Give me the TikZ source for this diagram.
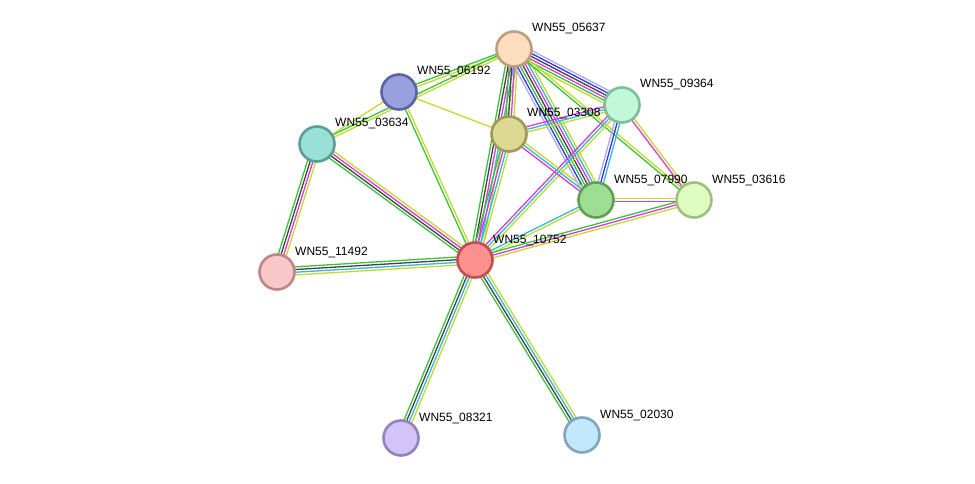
\documentclass[tikz,border=0pt]{standalone}
\usepackage{fontspec}
\setmainfont{Liberation Sans}
\usetikzlibrary{calc,backgrounds}
\definecolor{eG}{HTML}{3CC23C}
\definecolor{eY}{HTML}{C4D92E}
\definecolor{eK}{HTML}{444444}
\definecolor{eM}{HTML}{D63CD6}
\definecolor{eC}{HTML}{35B8DE}
\definecolor{eB}{HTML}{3333F0}
\definecolor{eL}{HTML}{AAAAF8}
\newcommand\stredge[4]{%
  \foreach \c [count=\i] in {#4}{%
    \pgfmathsetmacro\off{(\i-(#3+1)/2)*2.7}%
    \draw[color=\c, line width=1.3pt] ($(#1)!\off pt!90:(#2)$) -- ($(#2)!\off pt!-90:(#1)$);
  }}
\tikzset{
  pnode/.style={circle, minimum size=35pt, inner sep=0pt, line width=2.6pt},
  lab/.style={anchor=base west, inner sep=0pt, font=\fontsize{12}{14}\selectfont, text=black}
}
\begin{document}
\begin{tikzpicture}[x=1pt,y=-1pt]
\useasboundingbox (0,0) rectangle (975,484);
\node[pnode, fill={rgb,255:red,253;green,221;blue,192}, draw={rgb,255:red,191;green,158;blue,125}] (n05637) at (514,49) {};
\node[pnode, fill={rgb,255:red,152;green,160;blue,222}, draw={rgb,255:red,90;green,100;blue,165}] (n06192) at (399,92) {};
\node[pnode, fill={rgb,255:red,193;green,249;blue,216}, draw={rgb,255:red,127;green,191;blue,151}] (n09364) at (622,105) {};
\node[pnode, fill={rgb,255:red,153;green,224;blue,214}, draw={rgb,255:red,90;green,158;blue,152}] (n03634) at (317,144) {};
\node[pnode, fill={rgb,255:red,220;green,218;blue,146}, draw={rgb,255:red,156;green,154;blue,88}] (n03308) at (509,134) {};
\node[pnode, fill={rgb,255:red,157;green,222;blue,146}, draw={rgb,255:red,95;green,159;blue,86}] (n07990) at (596,200) {};
\node[pnode, fill={rgb,255:red,222;green,253;blue,192}, draw={rgb,255:red,162;green,190;blue,130}] (n03616) at (694,200) {};
\node[pnode, fill={rgb,255:red,254;green,144;blue,144}, draw={rgb,255:red,192;green,80;blue,80}] (n10752) at (475,260) {};
\node[pnode, fill={rgb,255:red,248;green,199;blue,199}, draw={rgb,255:red,190;green,135;blue,135}] (n11492) at (277,272) {};
\node[pnode, fill={rgb,255:red,210;green,195;blue,250}, draw={rgb,255:red,147;green,130;blue,187}] (n08321) at (401,438) {};
\node[pnode, fill={rgb,255:red,193;green,232;blue,252}, draw={rgb,255:red,130;green,165;blue,191}] (n02030) at (582,435) {};
\begin{pgfonlayer}{background}
\fill[white] (0,0) rectangle (975,484);
\stredge{n05637}{n06192}{2}{eG,eY}
\stredge{n05637}{n03634}{2}{eG,eY}
\stredge{n06192}{n03634}{1}{eY}
\stredge{n06192}{n03308}{1}{eY}
\stredge{n06192}{n10752}{2}{eG,eY}
\stredge{n03634}{n10752}{4}{eG,eK,eM,eY}
\stredge{n03634}{n11492}{4}{eG,eK,eM,eY}
\stredge{n11492}{n10752}{4}{eY,eC,eK,eG}
\stredge{n10752}{n08321}{4}{eG,eK,eC,eY}
\stredge{n10752}{n02030}{4}{eG,eK,eC,eY}
\stredge{n05637}{n10752}{5}{eG,eK,eM,eC,eY}
\stredge{n03308}{n10752}{4}{eG,eM,eC,eY}
\stredge{n05637}{n03308}{4}{eG,eK,eM,eY}
\stredge{n05637}{n09364}{6}{eY,eG,eM,eK,eB,eL}
\stredge{n05637}{n07990}{7}{eL,eB,eG,eK,eM,eC,eY}
\stredge{n05637}{n03616}{2}{eG,eY}
\stredge{n09364}{n03308}{3}{eM,eC,eY}
\stredge{n09364}{n07990}{3}{eL,eB,eC}
\stredge{n09364}{n10752}{3}{eM,eC,eY}
\stredge{n09364}{n03616}{2}{eM,eY}
\stredge{n03308}{n07990}{3}{eM,eC,eY}
\stredge{n07990}{n03616}{2}{eM,eY}
\stredge{n07990}{n10752}{2}{eC,eY}
\stredge{n03616}{n10752}{3}{eG,eM,eY}
\end{pgfonlayer}
\node[lab] (l05637) at (532,32) {WN55\_05637};
\node[lab] (l06192) at (417,75) {WN55\_06192};
\node[lab] (l09364) at (640,88) {WN55\_09364};
\node[lab] (l03634) at (335,127) {WN55\_03634};
\node[lab] (l03308) at (527,117) {WN55\_03308};
\node[lab] (l07990) at (614,183) {WN55\_07990};
\node[lab] (l03616) at (712,183) {WN55\_03616};
\node[lab] (l10752) at (493,243) {WN55\_10752};
\node[lab] (l11492) at (295,255) {WN55\_11492};
\node[lab] (l08321) at (419,421) {WN55\_08321};
\node[lab] (l02030) at (600,418) {WN55\_02030};
\end{tikzpicture}
\end{document}
